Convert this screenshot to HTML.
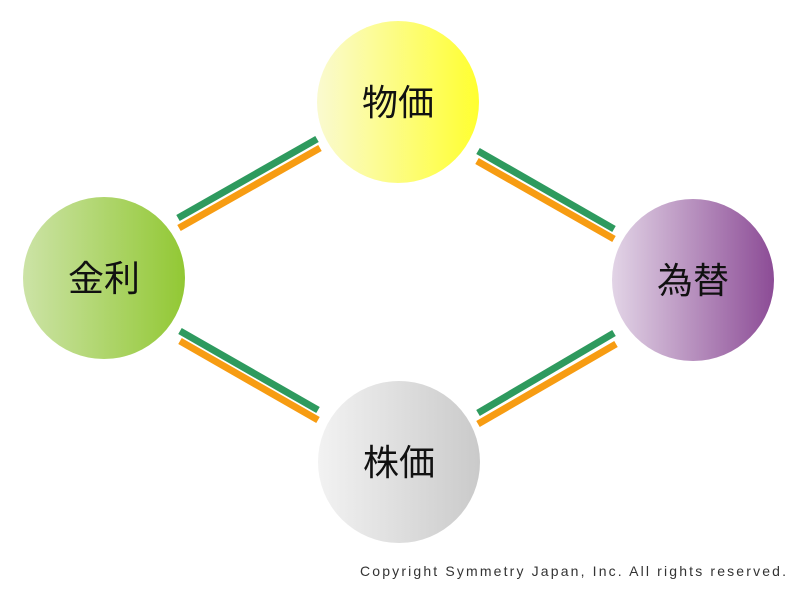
<!DOCTYPE html>
<html><head><meta charset="utf-8"><style>
html,body{margin:0;padding:0;background:#fff;}
svg{display:block}
</style></head><body>
<svg width="800" height="600" xmlns="http://www.w3.org/2000/svg">
<defs>
<linearGradient id="gy" x1="0" x2="1"><stop offset="0" stop-color="#fafad0"/><stop offset="1" stop-color="#ffff30"/></linearGradient>
<linearGradient id="gg" x1="0" x2="1"><stop offset="0" stop-color="#cce3a6"/><stop offset="1" stop-color="#92c834"/></linearGradient>
<linearGradient id="gp" x1="0" x2="1"><stop offset="0" stop-color="#e2d4e6"/><stop offset="1" stop-color="#8c4c96"/></linearGradient>
<linearGradient id="gw" x1="0" x2="1"><stop offset="0" stop-color="#f2f2f2"/><stop offset="1" stop-color="#cacaca"/></linearGradient>
</defs>
<g stroke-width="7" stroke-linecap="butt">
<line x1="178" y1="218" x2="317" y2="139" stroke="#2e9a5e"/>
<line x1="179" y1="228" x2="320" y2="148" stroke="#f79c12"/>
<line x1="478" y1="151" x2="614" y2="229" stroke="#2e9a5e"/>
<line x1="477" y1="161" x2="614" y2="239" stroke="#f79c12"/>
<line x1="180" y1="331" x2="318" y2="410" stroke="#2e9a5e"/>
<line x1="180" y1="341" x2="318" y2="420" stroke="#f79c12"/>
<line x1="478" y1="413" x2="614" y2="333" stroke="#2e9a5e"/>
<line x1="478" y1="424" x2="616" y2="344" stroke="#f79c12"/>
</g>
<circle cx="398" cy="102" r="81" fill="url(#gy)"/>
<circle cx="104" cy="278" r="81" fill="url(#gg)"/>
<circle cx="693" cy="280" r="81" fill="url(#gp)"/>
<circle cx="399" cy="462" r="81" fill="url(#gw)"/>
<g font-family="Liberation Sans, Noto Sans CJK JP, sans-serif" font-size="36" fill="#111" text-anchor="middle">
<text x="398" y="115">物価</text>
<text x="104" y="291">金利</text>
<text x="693" y="293">為替</text>
<text x="399" y="475">株価</text>
</g>
<text x="360" y="576" textLength="426" lengthAdjust="spacing" font-family="Liberation Sans, sans-serif" font-size="14" fill="#333">Copyright Symmetry Japan, Inc.  All rights reserved.</text>
</svg>
</body></html>
